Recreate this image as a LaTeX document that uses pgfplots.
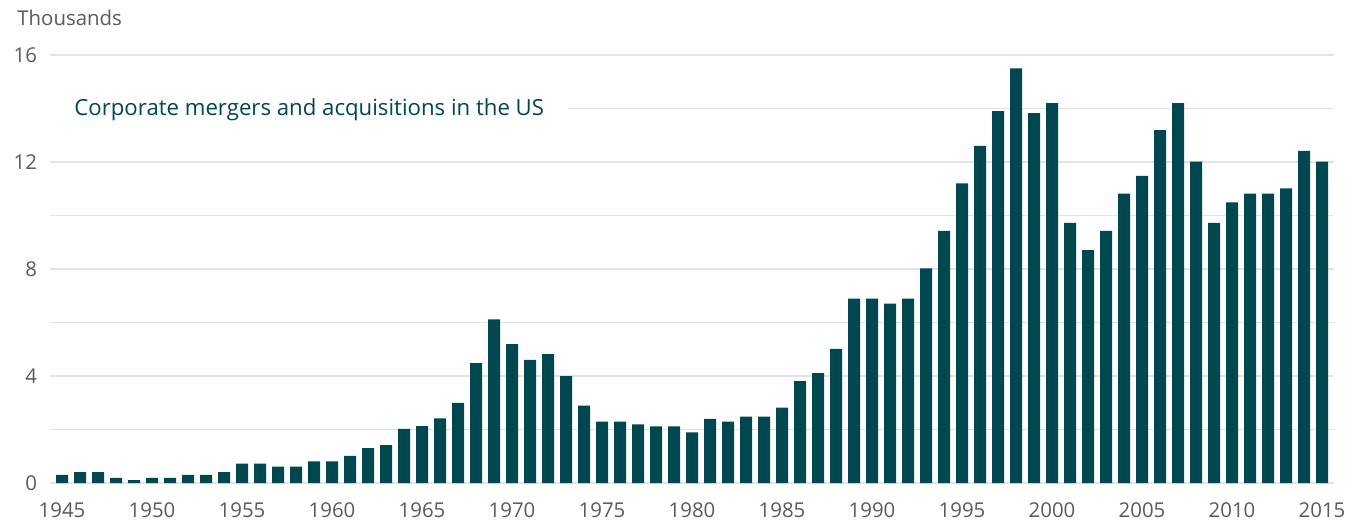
\documentclass[border=0pt]{standalone}
\usepackage{fontspec}
\setmainfont{Open Sans}
\usepackage{pgfplots}
\pgfplotsset{compat=1.18}
\definecolor{barTeal}{HTML}{00474F}
\definecolor{tickGray}{HTML}{5A5A5A}
\definecolor{gridGray}{HTML}{E3E3E3}

\pgfplotstableread{
year deals
1945 0.30
1946 0.41
1947 0.41
1948 0.19
1949 0.11
1950 0.19
1951 0.19
1952 0.30
1953 0.30
1954 0.41
1955 0.72
1956 0.72
1957 0.61
1958 0.61
1959 0.81
1960 0.81
1961 1.01
1962 1.30
1963 1.42
1964 2.02
1965 2.13
1966 2.42
1967 3.00
1968 4.48
1969 6.12
1970 5.19
1971 4.60
1972 4.82
1973 4.00
1974 2.89
1975 2.29
1976 2.29
1977 2.19
1978 2.12
1979 2.12
1980 1.89
1981 2.40
1982 2.29
1983 2.48
1984 2.48
1985 2.82
1986 3.81
1987 4.11
1988 5.01
1989 6.89
1990 6.89
1991 6.71
1992 6.89
1993 8.02
1994 9.43
1995 11.20
1996 12.60
1997 13.90
1998 15.50
1999 13.83
2000 14.20
2001 9.72
2002 8.71
2003 9.43
2004 10.82
2005 11.48
2006 13.19
2007 14.20
2008 12.01
2009 9.72
2010 10.49
2011 10.82
2012 10.82
2013 11.01
2014 12.42
2015 12.01
}\mergers

\begin{document}
\begin{tikzpicture}
\useasboundingbox (-25pt,-22pt) rectangle (653pt,241.5pt);
\begin{axis}[
    at={(0pt,0pt)}, anchor=south west,
    scale only axis, width=642pt, height=214pt,
    xmin=1944.333, xmax=2015.667,
    ymin=0, ymax=16,
    axis line style={draw=none},
    major tick length=0pt, minor tick length=0pt,
    xtick={1945,1950,...,2015},
    ytick={0,4,8,12,16},
    minor ytick={2,6,10,14},
    ymajorgrids, yminorgrids,
    major grid style={gridGray, line width=0.6pt},
    minor grid style={gridGray, line width=0.6pt},
    /pgf/number format/1000 sep={},
    /pgf/number format/assume math mode=true,
    tick label style={font=\fontsize{10.2}{12}\selectfont, text=tickGray},
    xticklabel style={yshift=-6.5pt},
    yticklabel style={xshift=-3pt},
]
  \addplot[ybar, bar width=6pt, fill=barTeal, draw=none] table[x=year, y=deals] {\mergers};
  \node[anchor=west, fill=white, inner xsep=12pt, inner ysep=4pt, text=barTeal,
        font=\fontsize{11.1}{13}\selectfont] at (rel axis cs:0,0.872)
        {Corporate mergers and acquisitions in the US};
\end{axis}
\node[anchor=base west, inner sep=0pt, text=tickGray, font=\fontsize{10.2}{12}\selectfont]
  at (-16.5pt,229pt) {Thousands};
\end{tikzpicture}
\end{document}
